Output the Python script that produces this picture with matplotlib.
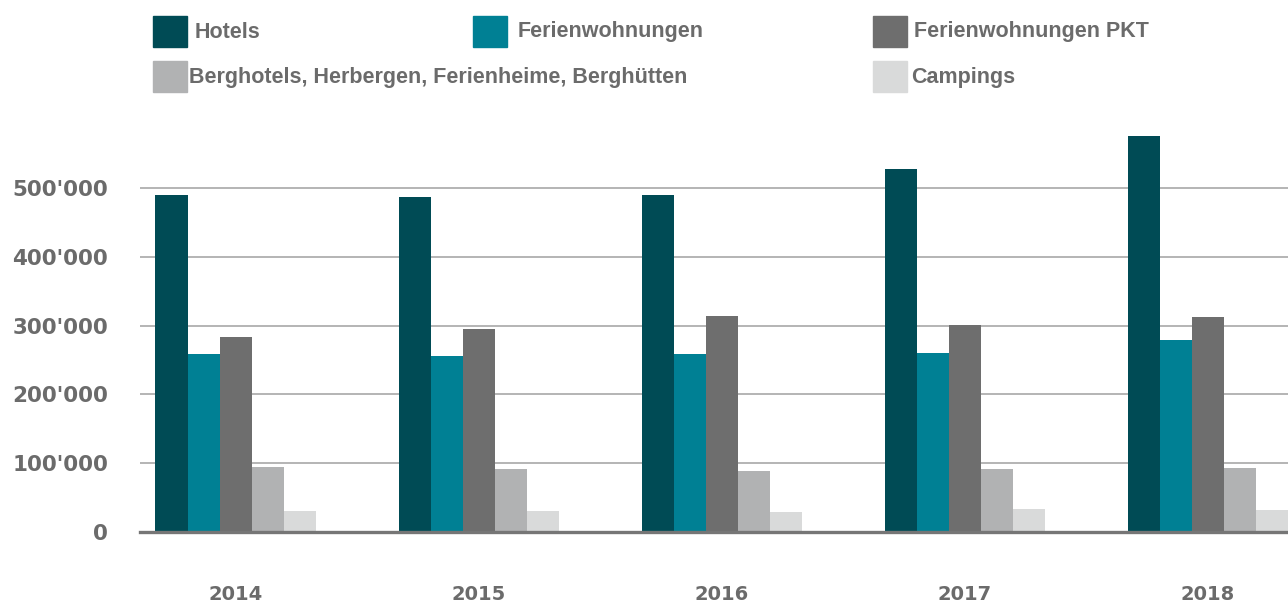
import numpy as np
import matplotlib.pyplot as plt
from matplotlib.patches import Rectangle
from matplotlib.ticker import FuncFormatter

years = ['2014', '2015', '2016', '2017', '2018']
series = ['Hotels', 'Ferienwohnungen', 'Ferienwohnungen PKT',
          'Berghotels, Herbergen, Ferienheime, Berghütten', 'Campings']
hotels = [490000, 487000, 490000, 528000, 576000]
ferienwohnungen = [259000, 256000, 259000, 260000, 279000]
ferienwohnungen_pkt = [283000, 295000, 314000, 301000, 312000]
berghotels = [94000, 92000, 89000, 92000, 93000]
campings = [31000, 31000, 29000, 33000, 32000]
values = [hotels, ferienwohnungen, ferienwohnungen_pkt, berghotels, campings]
colors = ['#004b55', '#008094', '#6e6e6e', '#b1b2b3', '#d9dada']
text_col = '#6b6b6b'

W, H = 1288, 606
fig = plt.figure(figsize=(W / 100, H / 100), dpi=100)
ax = fig.add_axes([140 / W, (H - 532) / H, (W - 140) / W, (532 - 119) / H])

x = np.arange(len(years))
bw = 0.1317
for k, (vals, c) in enumerate(zip(values, colors)):
    ax.bar(x + (k - 2) * bw, vals, width=bw, color=c, zorder=2)

ax.set_xlim(-0.393, 4.329)
ax.set_ylim(0, 600000)
ax.set_yticks(np.arange(0, 500001, 100000))
ax.yaxis.set_major_formatter(FuncFormatter(lambda v, p: f"{int(v):,}".replace(',', "'")))
ax.set_xticks(x)
ax.set_xticklabels(years)
ax.grid(axis='y', color='#a0a0a0', linewidth=1.1, zorder=0)
for s in ['top', 'right', 'left']:
    ax.spines[s].set_visible(False)
ax.spines['bottom'].set_color('#767676')
ax.spines['bottom'].set_linewidth(2.4)
ax.spines['bottom'].set_zorder(3)
ax.tick_params(axis='both', length=0)
ax.tick_params(axis='y', pad=23)
ax.tick_params(axis='x', pad=38)
for lab in ax.get_yticklabels() + ax.get_xticklabels():
    lab.set_fontfamily('DejaVu Sans')
    lab.set_fontweight('bold')
    lab.set_color(text_col)
for lab in ax.get_yticklabels():
    lab.set_fontsize(15.5)
for lab in ax.get_xticklabels():
    lab.set_fontsize(14)

# legend, placed by hand like the original
slots = [(153, 16), (473, 16), (873, 16), (153, 61), (873, 61)]
gaps = [8, 11, 7, 2, 4]
for name, c, (lx, ly), g in zip(series, colors, slots, gaps):
    fig.patches.append(Rectangle((lx / W, 1 - (ly + 31) / H), 34 / W, 31 / H,
                                 transform=fig.transFigure, color=c))
    fig.text((lx + 34 + g) / W, 1 - (ly + 16) / H, name, fontsize=15.5,
             fontweight='bold', family='Liberation Sans', color=text_col,
             va='center', ha='left')

fig.savefig('out.png', dpi=100)
